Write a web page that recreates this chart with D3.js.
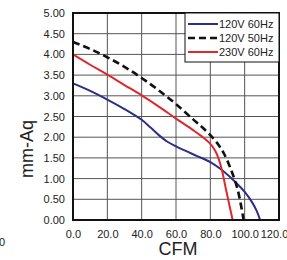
<!DOCTYPE html>
<html>
<head>
<meta charset="utf-8">
<script src="https://cdn.jsdelivr.net/npm/d3@7"></script>
<style>
  body { margin: 0; background: #fff; }
  svg { display: block; font-family: Arial, "Liberation Sans", sans-serif; }
</style>
</head>
<body>
<svg width="287" height="260"></svg>
<script>
// curves: CFM vs mm-Aq
const blueCfm  = [0, 10, 20, 30, 40, 45, 50, 55, 60, 65, 72, 80, 86, 95, 100, 104, 107, 109];
const blueP    = [3.30, 3.12, 2.91, 2.68, 2.42, 2.24, 2.05, 1.89, 1.78, 1.68, 1.55, 1.40, 1.23, 0.90, 0.68, 0.45, 0.22, 0];
const blackCfm = [0, 10, 20, 30, 40, 50, 60, 70, 75, 80, 85, 88, 92, 96, 99.4];
const blackP   = [4.30, 4.13, 3.93, 3.70, 3.43, 3.13, 2.80, 2.43, 2.25, 2.05, 1.80, 1.60, 1.22, 0.72, 0];
const redCfm   = [0, 10, 20, 30, 40, 50, 60, 70, 75, 80, 83, 85, 87, 89, 91, 93];
const redP     = [4.00, 3.75, 3.51, 3.26, 3.01, 2.74, 2.45, 2.17, 2.02, 1.84, 1.66, 1.46, 1.16, 0.76, 0.38, 0];

const seriesNames = ["120V 60Hz", "120V 50Hz", "230V 60Hz"];
const xTicks = [0, 20, 40, 60, 80, 100, 120];
const yTicks = [0, 0.5, 1, 1.5, 2, 2.5, 3, 3.5, 4, 4.5, 5];

const series = [
  {name: seriesNames[0], color: "#2b2f86", dash: null, pts: blueCfm.map((c, i) => [c, blueP[i]])},
  {name: seriesNames[1], color: "#111", dash: "7,4", pts: blackCfm.map((c, i) => [c, blackP[i]])},
  {name: seriesNames[2], color: "#e0282c", dash: null, pts: redCfm.map((c, i) => [c, redP[i]])}
];

const svg = d3.select("svg");
const x = d3.scaleLinear().domain([0, 120]).range([73, 279]);
const y = d3.scaleLinear().domain([0, 5]).range([220, 13]);

// grid
svg.append("g")
  .selectAll("line")
  .data(xTicks.slice(1, -1))
  .join("line")
    .attr("x1", d => x(d)).attr("x2", d => x(d))
    .attr("y1", y(0)).attr("y2", y(5))
    .attr("stroke", "#555").attr("stroke-width", 1);

svg.append("g")
  .selectAll("line")
  .data(yTicks.slice(1, -1))
  .join("line")
    .attr("x1", x(0)).attr("x2", x(120))
    .attr("y1", d => y(d)).attr("y2", d => y(d))
    .attr("stroke", "#555").attr("stroke-width", 1);

// axes labels
const yAxis = svg.append("g")
    .attr("transform", `translate(${x(0)},0)`)
    .call(d3.axisLeft(y).tickValues(yTicks).tickFormat(d3.format(".2f")).tickSize(0).tickPadding(8));
const xAxis = svg.append("g")
    .attr("transform", `translate(0,${y(0)})`)
    .call(d3.axisBottom(x).tickValues(xTicks).tickFormat(d3.format(".1f")).tickSize(0).tickPadding(10));
[yAxis, xAxis].forEach(a => {
  a.select(".domain").remove();
  a.selectAll("text").attr("font-size", 11).attr("fill", "#222").attr("font-family", "Arial, 'Liberation Sans', sans-serif");
});
xAxis.selectAll("text").filter(d => d === 120).attr("dx", -5);

// curves
const line = d3.line()
    .x(d => x(d[0]))
    .y(d => y(d[1]))
    .curve(d3.curveCatmullRom.alpha(0.5));

svg.append("g")
  .selectAll("path")
  .data(series)
  .join("path")
    .attr("fill", "none")
    .attr("stroke", d => d.color)
    .attr("stroke-width", d => d.dash ? 2.6 : 2)
    .attr("stroke-dasharray", d => d.dash)
    .attr("d", d => line(d.pts));

// frame
svg.append("rect")
    .attr("x", x(0)).attr("y", y(5))
    .attr("width", x(120) - x(0)).attr("height", y(0) - y(5))
    .attr("fill", "none").attr("stroke", "#111").attr("stroke-width", 2);

// legend
const lg = svg.append("g");
lg.append("rect")
    .attr("x", 185).attr("y", y(5))
    .attr("width", x(120) - 185).attr("height", 49)
    .attr("fill", "#fff").attr("stroke", "#111").attr("stroke-width", 1);
const row = lg.selectAll("g")
  .data(series)
  .join("g")
    .attr("transform", (d, i) => `translate(188,${24 + i * 14})`);
row.append("line")
    .attr("x1", 0).attr("x2", 30)
    .attr("stroke", d => d.color)
    .attr("stroke-width", d => d.dash ? 2.6 : 2)
    .attr("stroke-dasharray", d => d.dash);
row.append("text")
    .attr("x", 31).attr("dy", "0.35em")
    .attr("font-size", 11).attr("fill", "#222")
    .text(d => d.name);

// titles
svg.append("text")
    .attr("transform", "translate(33,149) rotate(-90)")
    .attr("text-anchor", "middle")
    .attr("font-size", 18).attr("fill", "#222")
    .text("mm-Aq");
svg.append("text")
    .attr("x", 178).attr("y", 255)
    .attr("text-anchor", "middle")
    .attr("font-size", 18).attr("fill", "#222")
    .text("CFM");

// stray label at the left edge
svg.append("text")
    .attr("x", -1).attr("y", 246)
    .attr("font-size", 11).attr("fill", "#222")
    .text("0");
</script>
</body>
</html>
